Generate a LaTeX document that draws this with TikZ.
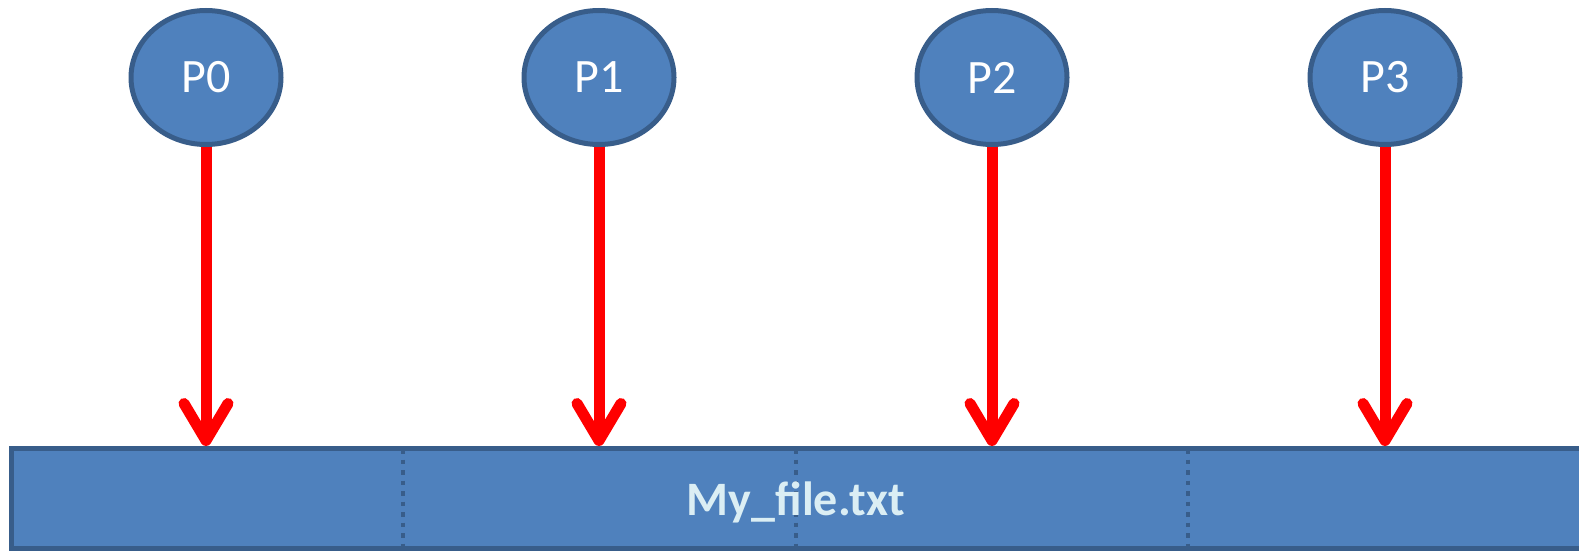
\documentclass[tikz,border=0pt]{standalone}
\usepackage{xcolor}
\usepackage{fontspec}
\setmainfont{Carlito}
\usepackage{tikz}
\usetikzlibrary{shapes.geometric, arrows.meta}

\definecolor{procfill}{RGB}{79,129,189}
\definecolor{procline}{RGB}{56,93,138}
\definecolor{filetext}{RGB}{219,238,244}

\tikzset{
  proc/.style={ellipse, draw=procline, line width=5pt, fill=procfill, minimum width=150pt, minimum height=134pt, inner sep=0pt, text=white, font=\fontsize{48}{56}\selectfont},
  filebar/.style={rectangle, draw=procline, line width=5pt, fill=procfill, minimum width=1590pt, minimum height=100pt, inner sep=0pt},
  writearrow/.style={draw=red, line width=11pt, -{Straight Barb[length=37pt 0 0, width=44pt 0 0, round]}},
  divider/.style={draw=procline, line width=4.5pt, dash pattern=on 4.5pt off 6pt}
}

\begin{document}
\begin{tikzpicture}[x=1pt,y=1pt,yscale=-1,xscale=1]
\useasboundingbox (0,0) rectangle (1579,553);
\clip (0,0) rectangle (1579,553);

%Shape: Rectangle [file]
\node [filebar] (file) at (806,498.5) {};
%Straight Lines [dividers]
\draw [divider] (403,449) -- (403,551);
\draw [divider] (796,449) -- (796,551);
\draw [divider] (1188,449) -- (1188,551);
% Text Node
\node [text=filetext, font=\fontsize{48}{56}\selectfont\bfseries] (fname) at (796,502) {My\_file.txt};

%Shape: Ellipse [processes]
\node [proc] (p0) at (206,77.5) {P0};
\node [proc] (p1) at (599,77.5) {P1};
\node [proc] (p2) at (992,77.5) {P2};
\node [proc] (p3) at (1385,77.5) {P3};

%Straight Lines [writes]
\draw [writearrow] (p0.south) -- (p0.south |- file.north);
\draw [writearrow] (p1.south) -- (p1.south |- file.north);
\draw [writearrow] (p2.south) -- (p2.south |- file.north);
\draw [writearrow] (p3.south) -- (p3.south |- file.north);

\end{tikzpicture}
\end{document}
